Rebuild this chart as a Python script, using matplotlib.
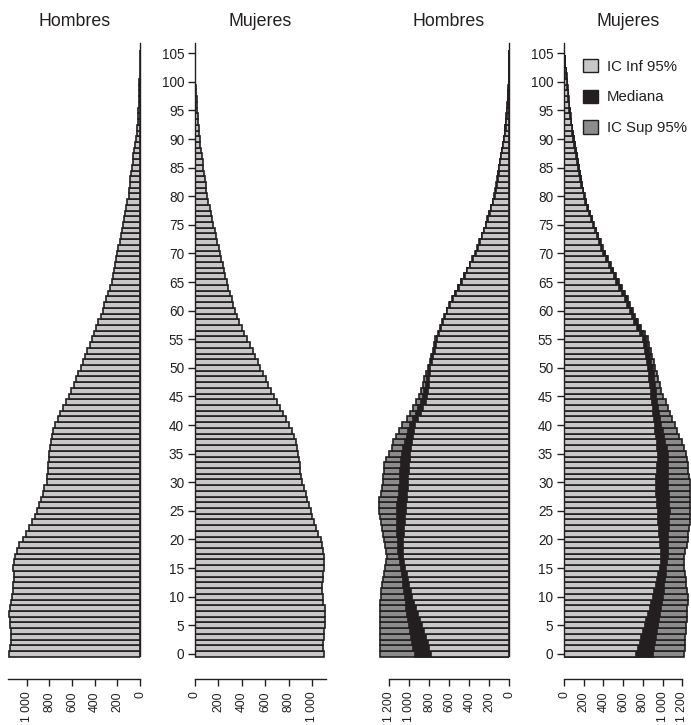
import numpy as np
import matplotlib.pyplot as plt
from matplotlib.patches import Patch

plt.rcParams['font.family'] = ['Liberation Sans', 'DejaVu Sans']

ages = np.arange(0, 106)

# observed pyramid (left)
h_obs = [1152, 1148, 1142, 1140, 1140, 1145, 1150, 1156, 1150, 1138,
         1128, 1122, 1117, 1115, 1116, 1117, 1112, 1103, 1088, 1064,
         1035, 1005, 976, 950, 929, 911, 891, 876, 858, 844,
         823, 817, 811, 809, 806, 800, 794, 788, 779, 765,
         750, 726, 706, 682, 652, 625, 605, 585, 565, 543,
         522, 505, 485, 465, 445, 428, 410, 390, 370, 348,
         330, 315, 298, 282, 265, 250, 240, 230, 220, 210,
         200, 190, 180, 170, 162, 153, 143, 133, 123, 112,
         100, 95, 90, 84, 78, 72, 65, 58, 50, 42,
         35, 30, 26, 22, 18, 15, 12, 10, 8, 6,
         5, 3, 2, 1, 1, 0]
m_obs = [1103, 1095, 1095, 1100, 1105, 1110, 1115, 1115, 1108, 1098,
         1092, 1088, 1088, 1092, 1097, 1103, 1106, 1103, 1097, 1088,
         1075, 1054, 1035, 1018, 1003, 989, 975, 960, 946, 932,
         918, 906, 898, 895, 889, 878, 869, 861, 846, 832,
         806, 775, 750, 727, 705, 672, 650, 628, 605, 580,
         556, 535, 515, 495, 468, 442, 420, 400, 380, 360,
         342, 328, 313, 298, 285, 271, 260, 248, 237, 225,
         214, 203, 192, 180, 168, 157, 146, 135, 124, 114,
         106, 98, 90, 82, 76, 71, 65, 58, 52, 47,
         43, 38, 33, 28, 24, 20, 16, 13, 10, 7,
         4, 3, 2, 1, 1, 0]

# projected pyramid (right): lower CI, median, upper CI
h_inf = [783, 800, 818, 837, 855, 873, 893, 913, 933, 953,
         973, 988, 1002, 1015, 1028, 1040, 1052, 1060, 1064, 1064,
         1063, 1058, 1052, 1045, 1039, 1033, 1029, 1025, 1021, 1017,
         1013, 1009, 1005, 1000, 995, 990, 982, 972, 962, 952,
         940, 912, 885, 860, 838, 820, 813, 806, 800, 795,
         790, 777, 762, 748, 734, 720, 700, 680, 660, 640,
         620, 592, 563, 535, 505, 476, 448, 419, 390, 362,
         333, 313, 293, 272, 252, 232, 215, 197, 180, 162,
         145, 135, 124, 115, 107, 100, 90, 80, 70, 60,
         50, 44, 38, 32, 26, 20, 16, 12, 9, 6,
         3, 2, 1, 1, 0, 0]
h_med = [947, 960, 972, 985, 997, 1007, 1015, 1022, 1030, 1035,
         1040, 1050, 1060, 1068, 1076, 1083, 1095, 1105, 1112, 1115,
         1117, 1120, 1122, 1123, 1124, 1123, 1120, 1115, 1108, 1102,
         1097, 1093, 1090, 1086, 1080, 1073, 1060, 1045, 1028, 1010,
         990, 960, 935, 910, 885, 862, 850, 838, 825, 812,
         800, 785, 770, 755, 740, 726, 708, 688, 667, 646,
         626, 598, 568, 540, 510, 480, 452, 423, 394, 365,
         336, 316, 296, 275, 255, 235, 218, 200, 182, 164,
         147, 137, 126, 117, 109, 102, 92, 82, 72, 62,
         52, 46, 40, 34, 28, 22, 18, 14, 10, 7,
         4, 3, 2, 1, 1, 0]
h_sup = [1297, 1297, 1295, 1295, 1292, 1290, 1293, 1293, 1293, 1293,
         1287, 1283, 1277, 1267, 1253, 1243, 1233, 1227, 1233, 1243,
         1253, 1260, 1270, 1283, 1293, 1303, 1303, 1300, 1287, 1277,
         1267, 1260, 1253, 1250, 1233, 1200, 1177, 1160, 1133, 1100,
         1070, 1027, 993, 960, 930, 900, 885, 868, 850, 830,
         810, 795, 780, 765, 752, 743, 718, 695, 672, 650,
         628, 604, 574, 545, 515, 485, 456, 427, 398, 369,
         340, 320, 299, 278, 258, 238, 221, 203, 185, 167,
         150, 140, 129, 120, 112, 105, 95, 85, 75, 65,
         55, 48, 42, 36, 30, 24, 20, 16, 12, 9,
         6, 4, 3, 2, 1, 1]
m_inf = [734, 750, 767, 784, 801, 818, 835, 852, 869, 886,
         902, 916, 930, 945, 958, 970, 980, 987, 983, 977,
         970, 966, 962, 958, 955, 953, 948, 942, 937, 932,
         929, 933, 940, 946, 950, 953, 948, 940, 932, 925,
         919, 913, 907, 900, 893, 885, 878, 871, 864, 857,
         851, 843, 834, 823, 812, 801, 775, 745, 715, 690,
         665, 640, 615, 590, 560, 530, 505, 478, 452, 426,
         400, 378, 356, 334, 312, 290, 272, 254, 236, 218,
         200, 188, 176, 165, 155, 145, 134, 124, 114, 104,
         94, 86, 78, 70, 62, 54, 48, 42, 36, 31,
         27, 22, 16, 10, 6, 3]
m_med = [902, 912, 922, 933, 943, 953, 963, 973, 983, 993,
         1003, 1010, 1017, 1024, 1031, 1037, 1046, 1054, 1054, 1054,
         1054, 1058, 1062, 1066, 1069, 1071, 1068, 1064, 1060, 1057,
         1054, 1054, 1054, 1054, 1054, 1054, 1042, 1028, 1014, 1000,
         987, 978, 968, 958, 948, 936, 929, 922, 915, 908,
         902, 887, 872, 857, 842, 828, 800, 770, 742, 715,
         692, 662, 636, 610, 579, 548, 521, 493, 466, 439,
         412, 389, 366, 344, 321, 298, 279, 261, 242, 224,
         206, 193, 181, 170, 160, 149, 138, 128, 118, 108,
         98, 90, 82, 73, 65, 57, 51, 45, 39, 34,
         29, 24, 18, 12, 8, 4]
m_sup = [1222, 1225, 1228, 1232, 1236, 1239, 1243, 1247, 1250, 1253,
         1256, 1250, 1242, 1235, 1228, 1222, 1220, 1222, 1230, 1243,
         1256, 1262, 1268, 1274, 1278, 1280, 1280, 1278, 1277, 1275,
         1273, 1268, 1260, 1253, 1246, 1239, 1218, 1195, 1170, 1145,
         1121, 1100, 1078, 1055, 1030, 1003, 987, 970, 955, 940,
         926, 912, 897, 882, 866, 851, 820, 785, 755, 725,
         700, 672, 645, 618, 587, 556, 528, 500, 472, 445,
         418, 394, 371, 348, 325, 302, 283, 264, 246, 228,
         210, 197, 185, 173, 163, 152, 141, 131, 121, 111,
         101, 93, 85, 76, 68, 60, 54, 48, 42, 37,
         32, 27, 20, 14, 9, 5]

ticks_1000 = [0, 200, 400, 600, 800, 1000]
labels_1000 = ['0', '200', '400', '600', '800', '1 000']
ticks_1200 = [0, 200, 400, 600, 800, 1000, 1200]
labels_1200 = ['0', '200', '400', '600', '800', '1 000', '1 200']
age_ticks = list(range(0, 106, 5))
legend_labels = ['IC Inf 95%', 'Mediana', 'IC Sup 95%']

ink = '#231f20'
light = '#c8c8c8'
mid = '#8c8c8c'
lw = 1.2

W, H = 691, 725
fig = plt.figure(figsize=(W / 100, H / 100), dpi=100)


def add_ax(x0, x1):
    return fig.add_axes([x0 / W, (H - 679) / H, (x1 - x0) / W, (679 - 43) / H])


ax1 = add_ax(140 - 1210 * 0.1133, 140)
ax1.set_xlim(1210, 0)
ax2 = add_ax(195, 195 + 1150 * 0.117)
ax2.set_xlim(0, 1150)
ax3 = add_ax(509.3 - 1330 * 0.1, 509.3)
ax3.set_xlim(1330, 0)
ax4 = add_ax(564, 564 + 1285 * 0.0986)
ax4.set_xlim(0, 1285)

ax1.barh(ages, h_obs, height=1.0, color=light, edgecolor=ink, linewidth=lw)
ax2.barh(ages, m_obs, height=1.0, color=light, edgecolor=ink, linewidth=lw)
for ax, sup, med, inf in [(ax3, h_sup, h_med, h_inf), (ax4, m_sup, m_med, m_inf)]:
    ax.barh(ages, sup, height=1.0, color=mid, edgecolor=ink, linewidth=lw)
    ax.barh(ages, med, height=1.0, color=ink, edgecolor=ink, linewidth=lw)
    ax.barh(ages, inf, height=1.0, color=light, edgecolor=ink, linewidth=lw)

for ax, side, xb, ticks, labels in [(ax1, 'right', 1162, ticks_1000, labels_1000),
                                    (ax2, 'left', 1120, ticks_1000, labels_1000),
                                    (ax3, 'right', 1200, ticks_1200, labels_1200),
                                    (ax4, 'left', 1200, ticks_1200, labels_1200)]:
    ax.set_ylim(-4.4, 106.8)
    ax.set_facecolor('none')
    ax.spines['top'].set_visible(False)
    other = 'left' if side == 'right' else 'right'
    ax.spines[other].set_visible(False)
    ax.spines[side].set_bounds(-0.3, 106.8)
    ax.spines['bottom'].set_bounds(0, xb)
    for s in ax.spines.values():
        s.set_color(ink)
        s.set_linewidth(1.0)
    ax.set_xticks(ticks)
    ax.set_xticklabels(labels)
    ax.tick_params(axis='x', labelrotation=90, length=5, width=1.0, pad=4,
                   labelsize=8.8, color=ink, labelcolor=ink)
    if side == 'left':
        ax.set_yticks(age_ticks)
        ax.tick_params(axis='y', length=4.8, width=1.0, pad=3,
                       labelsize=9.8, color=ink, labelcolor=ink)
    else:
        ax.set_yticks([])

titles = [(75, 'Hombres'), (260, 'Mujeres'), (449, 'Hombres'), (628, 'Mujeres')]
for x, t in titles:
    fig.text(x / W, 1 - 22 / H, t, ha='center', va='center', fontsize=12.8, color=ink)

handles = [Patch(facecolor=light, edgecolor=ink, linewidth=1.0),
           Patch(facecolor=ink, edgecolor=ink, linewidth=1.0),
           Patch(facecolor=mid, edgecolor=ink, linewidth=1.0)]
leg = ax4.legend(handles, legend_labels, loc='upper left',
                 bbox_to_anchor=(583 / W, 1 - 59 / H), bbox_transform=fig.transFigure,
                 frameon=False, borderpad=0, borderaxespad=0, fontsize=10.8,
                 handlelength=1.0, handleheight=1.0, handletextpad=0.6,
                 labelspacing=1.05)
for txt in leg.get_texts():
    txt.set_color(ink)

fig.savefig('out.png', dpi=100)
